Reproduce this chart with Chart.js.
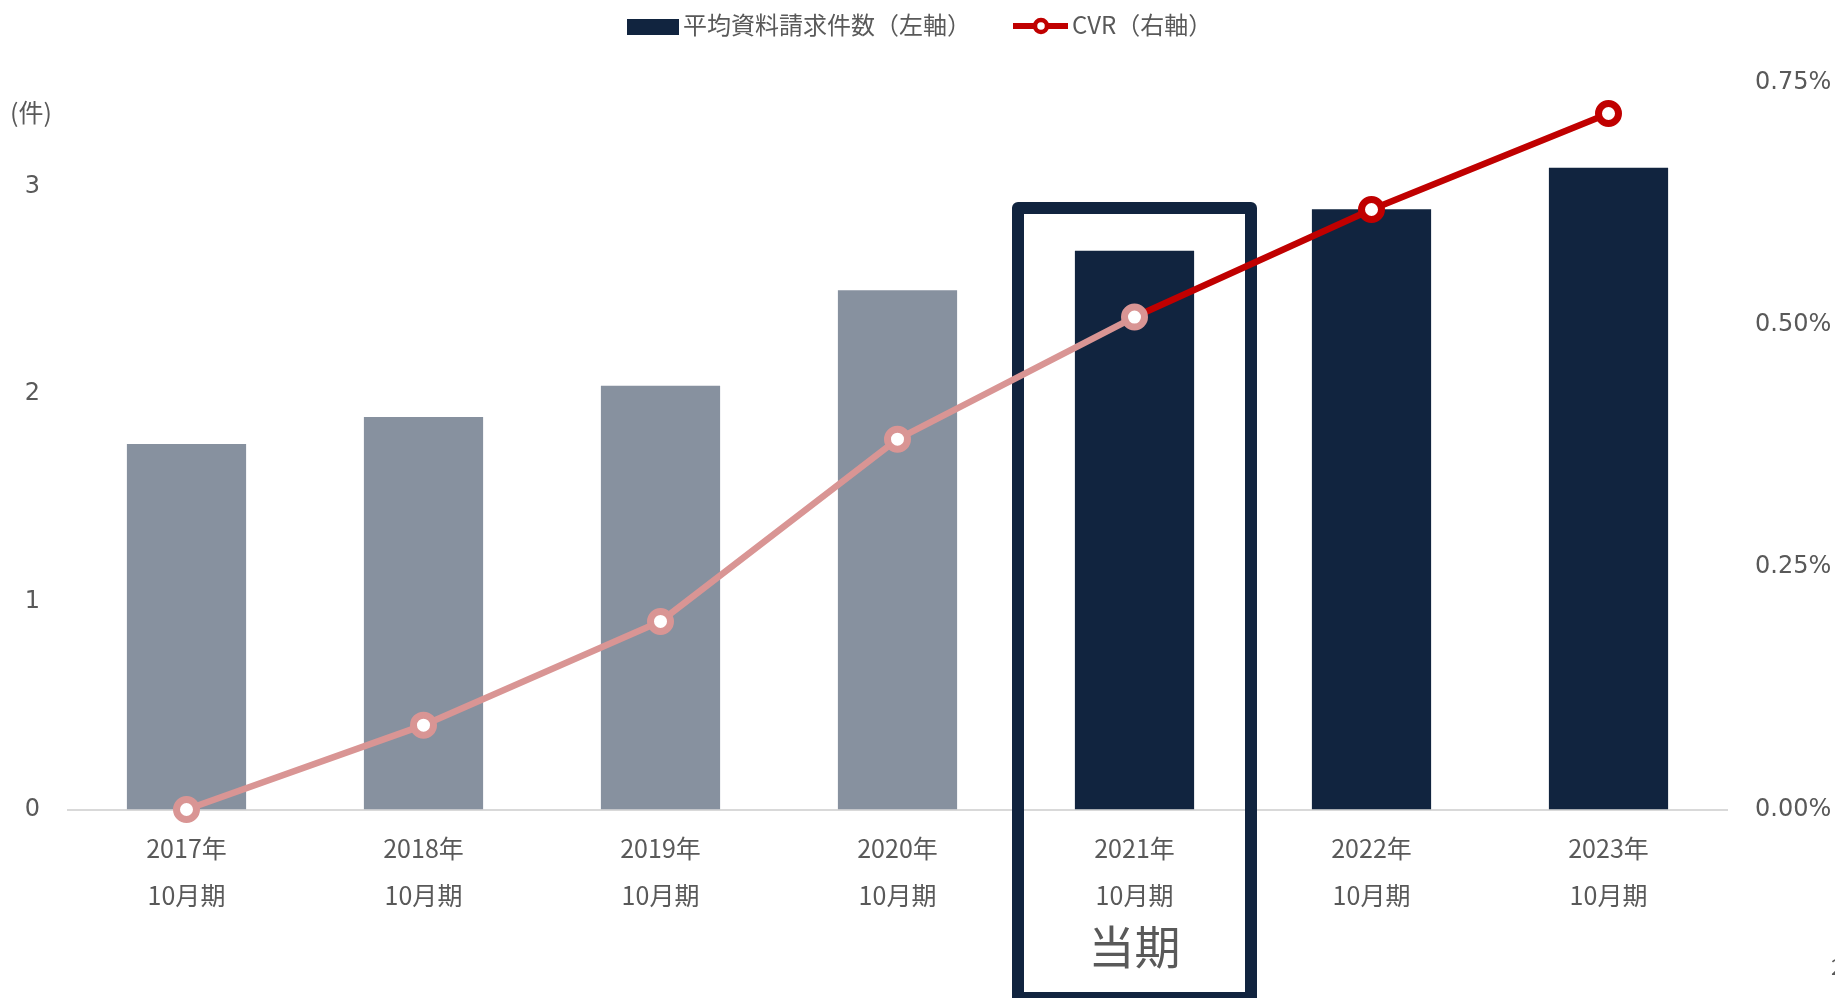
<!DOCTYPE html>
<html lang="ja">
<head>
<meta charset="utf-8">
<title>平均資料請求件数とCVR</title>
<script src="https://cdn.jsdelivr.net/npm/chart.js@4.4.1/dist/chart.umd.min.js"></script>
<style>
  html, body { margin: 0; padding: 0; background: #ffffff; }
  #wrap { width: 1835px; height: 998px; position: relative; overflow: hidden; }
  canvas { display: block; }
</style>
</head>
<body>
<div id="wrap"><canvas id="chart" width="1835" height="998"></canvas></div>
<script>
// Fiscal periods (October year-end)
const periods = [
  ['2017年', '10月期'],
  ['2018年', '10月期'],
  ['2019年', '10月期'],
  ['2020年', '10月期'],
  ['2021年', '10月期'],
  ['2022年', '10月期'],
  ['2023年', '10月期']
];
// Average number of document requests (left axis, 件)
const requestCounts = [1.76, 1.89, 2.04, 2.50, 2.69, 2.89, 3.09];
// Conversion rate (right axis, %)
const cvrValues = [0.00, 0.087, 0.194, 0.382, 0.508, 0.619, 0.718];
// Axis ticks
const leftTicks = [0, 1, 2, 3];
const rightTicks = [0, 0.25, 0.5, 0.75];
// Labels
const seriesNames = ['平均資料請求件数（左軸）', 'CVR（右軸）'];
const unitLabel = '(件)';
const currentLabel = '当期';
const currentIndex = 4;

const NAVY = '#11243f';
const GRAY = '#87919f';
const PINK = '#d99594';
const RED = '#c00000';
const TEXT = '#595959';
const CJK = "'Noto Sans CJK JP', 'Noto Sans', sans-serif";
const NUM = "'DejaVu Sans', Verdana, sans-serif";

const barColors = requestCounts.map((_, i) => i < currentIndex ? GRAY : NAVY);
const pointColors = cvrValues.map((_, i) => i <= currentIndex ? PINK : RED);

// Frame around the current period, drawn under the datasets
const currentFrame = {
  id: 'currentFrame',
  beforeDatasetsDraw(chart) {
    const { ctx } = chart;
    const x = chart.scales.x.getPixelForValue(currentIndex);
    const lw = 12;
    const half = 116.5;
    ctx.save();
    ctx.strokeStyle = NAVY;
    ctx.lineWidth = lw;
    ctx.lineJoin = 'round';
    ctx.strokeRect(x - half, 208, half * 2, 790);
    ctx.restore();
  },
  afterDraw(chart) {
    const { ctx } = chart;
    const x = chart.scales.x.getPixelForValue(currentIndex);
    ctx.save();
    ctx.fillStyle = TEXT;
    ctx.textAlign = 'center';
    ctx.textBaseline = 'middle';
    ctx.font = '46px ' + CJK;
    ctx.fillText(currentLabel, x, 947);
    ctx.restore();
  }
};

// Legend and unit caption
const legendAndUnit = {
  id: 'legendAndUnit',
  afterDraw(chart) {
    const { ctx } = chart;
    ctx.save();
    ctx.fillStyle = TEXT;
    ctx.textBaseline = 'middle';
    ctx.font = '24px ' + CJK;

    // bar series key
    ctx.fillStyle = NAVY;
    ctx.fillRect(627, 19, 52, 16);
    ctx.fillStyle = TEXT;
    ctx.textAlign = 'left';
    ctx.fillText(seriesNames[0], 683, 25);

    // line series key
    ctx.strokeStyle = RED;
    ctx.lineWidth = 6;
    ctx.beginPath();
    ctx.moveTo(1013, 26);
    ctx.lineTo(1068, 26);
    ctx.stroke();
    ctx.beginPath();
    ctx.arc(1041, 26, 6, 0, Math.PI * 2);
    ctx.fillStyle = '#ffffff';
    ctx.fill();
    ctx.lineWidth = 4.5;
    ctx.stroke();
    ctx.fillStyle = TEXT;
    ctx.fillText(seriesNames[1], 1072, 25);

    // unit of the left axis
    ctx.textAlign = 'center';
    ctx.font = '25px ' + CJK;
    ctx.fillText(unitLabel, 31, 112);

    // page number at the edge
    ctx.textAlign = 'left';
    ctx.font = '22px ' + CJK;
    ctx.fillText('2', 1831, 967);
    ctx.restore();
  }
};

new Chart(document.getElementById('chart'), {
  data: {
    labels: periods,
    datasets: [
      {
        type: 'line',
        label: seriesNames[1],
        data: cvrValues,
        yAxisID: 'y1',
        order: 0,
        clip: false,
        borderWidth: 6.5,
        borderColor: PINK,
        segment: {
          borderColor: ctx => ctx.p0DataIndex >= currentIndex ? RED : PINK
        },
        tension: 0,
        pointRadius: 10,
        pointHoverRadius: 10,
        pointBorderWidth: 7,
        pointBackgroundColor: '#ffffff',
        pointBorderColor: pointColors
      },
      {
        type: 'bar',
        label: seriesNames[0],
        data: requestCounts,
        yAxisID: 'y',
        order: 1,
        backgroundColor: barColors,
        categoryPercentage: 1.0,
        barPercentage: 0.503
      }
    ]
  },
  options: {
    responsive: false,
    animation: false,
    layout: { padding: { top: 82.5, left: 0, right: 0, bottom: 0 } },
    plugins: {
      legend: { display: false },
      tooltip: { enabled: false }
    },
    scales: {
      x: {
        grid: { display: false },
        border: { display: true, color: '#d9d9d9', width: 2 },
        ticks: {
          color: TEXT,
          padding: 7.5,
          maxRotation: 0,
          autoSkip: false,
          font: { family: CJK, size: 25, lineHeight: '47px' }
        },
        afterFit(scale) { scale.height = 188.5; }
      },
      y: {
        position: 'left',
        min: 0,
        max: 3.5,
        grid: { display: false },
        border: { display: false },
        ticks: {
          stepSize: 1,
          padding: 20,
          color: TEXT,
          font: { family: NUM, size: 24 }
        },
        afterBuildTicks(scale) {
          scale.ticks = leftTicks.map(v => ({ value: v }));
        },
        afterFit(scale) { scale.width = 68; }
      },
      y1: {
        position: 'right',
        min: 0,
        max: 0.75,
        grid: { display: false },
        border: { display: false },
        ticks: {
          stepSize: 0.25,
          padding: 20,
          color: TEXT,
          font: { family: NUM, size: 24 },
          callback: v => v.toFixed(2) + '%'
        },
        afterBuildTicks(scale) {
          scale.ticks = rightTicks.map(v => ({ value: v }));
        },
        afterFit(scale) { scale.width = 108; }
      }
    }
  },
  plugins: [currentFrame, legendAndUnit]
});
</script>
</body>
</html>
